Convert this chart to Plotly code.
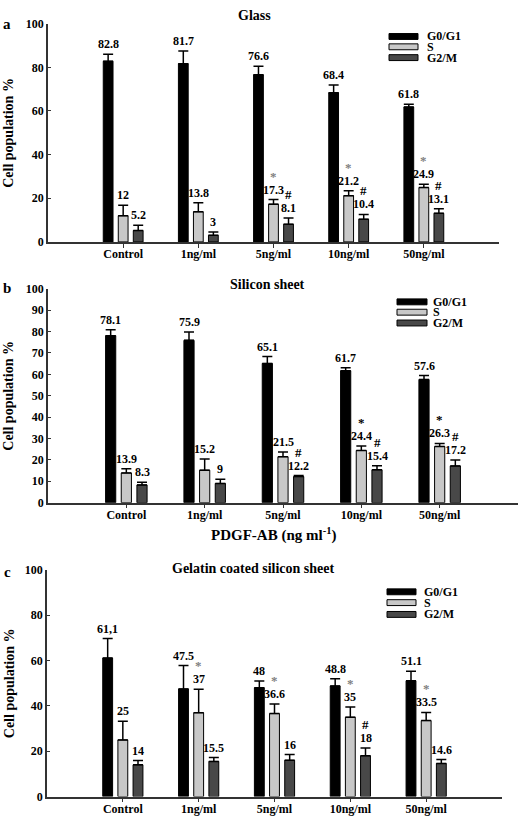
import plotly.graph_objects as go

W, H = 520, 818

categories = ["Control", "1ng/ml", "5ng/ml", "10ng/ml", "50ng/ml"]
series_names = ["G0/G1", "S", "G2/M"]
series_colors = ["#000000", "#c8c8c8", "#484848"]

# Panel a: Glass
glass_g0 = [82.8, 81.7, 76.6, 68.4, 61.8]
glass_s = [12, 13.8, 17.3, 21.2, 24.9]
glass_g2m = [5.2, 3, 8.1, 10.4, 13.1]
glass_g0_err = [3.2, 5.8, 3.9, 3.5, 1.3]
glass_s_err = [4.8, 4.2, 2.1, 2.2, 1.5]
glass_g2m_err = [2.4, 1.5, 2.9, 2.2, 2.1]
glass_g0_lbl = ["82.8", "81.7", "76.6", "68.4", "61.8"]
glass_s_lbl = ["12", "13.8", "17.3", "21.2", "24.9"]
glass_g2m_lbl = ["5.2", "3", "8.1", "10.4", "13.1"]
glass_s_sig = ["", "", "*", "*", "*"]
glass_g2m_sig = ["", "", "#", "#", "#"]

# Panel b: Silicon sheet
sil_g0 = [78.1, 75.9, 65.1, 61.7, 57.6]
sil_s = [13.9, 15.2, 21.5, 24.4, 26.3]
sil_g2m = [8.3, 9, 12.2, 15.4, 17.2]
sil_g0_err = [2.8, 3.9, 3.2, 1.4, 1.8]
sil_s_err = [1.9, 5.2, 2.2, 2.1, 1.4]
sil_g2m_err = [1.3, 2.0, 0.5, 1.9, 2.7]
sil_g0_lbl = ["78.1", "75.9", "65.1", "61.7", "57.6"]
sil_s_lbl = ["13.9", "15.2", "21.5", "24.4", "26.3"]
sil_g2m_lbl = ["8.3", "9", "12.2", "15.4", "17.2"]
sil_s_sig = ["", "", "", "*", "*"]
sil_g2m_sig = ["", "", "#", "#", "#"]

# Panel c: Gelatin coated silicon sheet
gel_g0 = [61.1, 47.5, 48, 48.8, 51.1]
gel_s = [25, 37, 36.6, 35, 33.5]
gel_g2m = [14, 15.5, 16, 18, 14.6]
gel_g0_err = [8.6, 10.3, 3.0, 3.2, 4.2]
gel_s_err = [8.2, 10.3, 4.2, 4.5, 3.6]
gel_g2m_err = [1.9, 1.7, 2.5, 3.4, 1.7]
gel_g0_lbl = ["61,1", "47.5", "48", "48.8", "51.1"]
gel_s_lbl = ["25", "37", "36.6", "35", "33.5"]
gel_g2m_lbl = ["14", "15.5", "16", "18", "14.6"]
gel_s_sig = ["", "*", "*", "*", "*"]
gel_g2m_sig = ["", "", "", "#", ""]

panel_titles = ["Glass", "Silicon sheet", "Gelatin coated silicon sheet"]
panel_letters = ["a", "b", "c"]
y_ticks = [[0, 20, 40, 60, 80, 100],
           [0, 10, 20, 30, 40, 50, 60, 70, 80, 90, 100],
           [0, 20, 40, 60, 80, 100]]
x_title_b = "PDGF-AB (ng ml<sup>-1</sup>)"

panels = [
    dict(vals=[glass_g0, glass_s, glass_g2m], errs=[glass_g0_err, glass_s_err, glass_g2m_err],
         lbls=[glass_g0_lbl, glass_s_lbl, glass_g2m_lbl], sig=[None, glass_s_sig, glass_g2m_sig],
         sigcolor="#7f7f7f"),
    dict(vals=[sil_g0, sil_s, sil_g2m], errs=[sil_g0_err, sil_s_err, sil_g2m_err],
         lbls=[sil_g0_lbl, sil_s_lbl, sil_g2m_lbl], sig=[None, sil_s_sig, sil_g2m_sig],
         sigcolor="#000000"),
    dict(vals=[gel_g0, gel_s, gel_g2m], errs=[gel_g0_err, gel_s_err, gel_g2m_err],
         lbls=[gel_g0_lbl, gel_s_lbl, gel_g2m_lbl], sig=[None, gel_s_sig, gel_g2m_sig],
         sigcolor="#7f7f7f"),
]


def px(x):
    return x / W


def py(y):
    return 1 - y / H


# layout geometry (pixels): x0, x1, ytop(100), ybottom(0)
geom = [(48, 499, 17, 239), (48, 518, 286.7, 504.3), (47, 502, 572.7, 803.3)]
title_pos = [(254, 9), (267, 282), (253, 571)]
letter_pos = [(7, 17), (7, 286), (7, 575)]
legend_geom = [(389, 418, 425, [30, 40.5, 51.5]),
               (397, 427, 431, [300, 310.5, 321.5]),
               (387, 416, 422, [595, 606, 618])]

FONT = "Liberation Serif"
fig = go.Figure()
annotations = []
shapes = []
offsets = [-0.2, 0.0, 0.2]
bw = 0.13
xs = list(range(len(categories)))

for p, panel in enumerate(panels):
    xa = "x" if p == 0 else f"x{p+1}"
    ya = "y" if p == 0 else f"y{p+1}"
    for s in range(3):
        fig.add_trace(go.Bar(
            x=xs, y=panel["vals"][s], width=bw, offset=offsets[s] - bw / 2,
            marker=dict(color=series_colors[s], line=dict(color="#000000", width=1)),
            error_y=dict(type="data", symmetric=False, array=panel["errs"][s],
                         arrayminus=[0] * len(xs), color="#000000", thickness=1.5, width=5),
            xaxis=xa, yaxis=ya, showlegend=False, name=series_names[s]))
        for i in xs:
            top = panel["vals"][s][i] + panel["errs"][s][i]
            annotations.append(dict(
                x=i + offsets[s], y=top, xref=xa, yref=ya, text=panel["lbls"][s][i],
                showarrow=False, yanchor="bottom", xanchor="center", yshift=1,
                font=dict(family=FONT, size=12, color="#000", weight="bold")))
            if panel["sig"][s] is not None and panel["sig"][s][i]:
                mark = panel["sig"][s][i]
                col = panel["sigcolor"] if mark == "*" else "#000000"
                annotations.append(dict(
                    x=i + offsets[s], y=top, xref=xa, yref=ya, text=mark,
                    showarrow=False, yanchor="bottom", xanchor="center", yshift=14,
                    font=dict(family=FONT, size=13, color=col, weight="bold")))

    x0, x1, yt, yb = geom[p]
    suffix = "" if p == 0 else str(p + 1)
    fig.layout["xaxis" + suffix] = dict(
        domain=[px(x0), px(x1)], range=[-1, 5], anchor=ya,
        tickvals=xs, ticktext=categories, ticks="outside", ticklen=4, tickwidth=1,
        tickcolor="#333", showline=True, linecolor="#333", linewidth=1.5,
        showgrid=False, zeroline=False, ticklabelstandoff=-4,
        tickfont=dict(family=FONT, size=12, color="#000", weight="bold"))
    fig.layout["yaxis" + suffix] = dict(
        domain=[py(yb), py(yt)], range=[0, 100], anchor=xa,
        tickvals=y_ticks[p], ticks="inside", ticklen=3, tickwidth=1, tickcolor="#333",
        showline=True, linecolor="#333", linewidth=1.5, showgrid=False, zeroline=False,
        tickfont=dict(family=FONT, size=12, color="#000", weight="bold"))

    # titles / letters / y-axis titles
    tx, ty = title_pos[p]
    annotations.append(dict(x=px(tx), y=py(ty), xref="paper", yref="paper",
                            text=panel_titles[p], showarrow=False, xanchor="center",
                            yanchor="middle",
                            font=dict(family=FONT, size=14, color="#000", weight="bold")))
    lx, ly = letter_pos[p]
    annotations.append(dict(x=px(lx), y=py(ly), xref="paper", yref="paper",
                            text=panel_letters[p], showarrow=False, xanchor="center",
                            yanchor="middle",
                            font=dict(family=FONT, size=15, color="#000", weight="bold")))
    annotations.append(dict(x=px(9), y=py((yt + yb) / 2), xref="paper", yref="paper",
                            text="Cell population %", textangle=-90, showarrow=False,
                            xanchor="center", yanchor="middle",
                            font=dict(family=FONT, size=14, color="#000", weight="bold")))

    # legend
    rx0, rx1, tx0, rows = legend_geom[p]
    for s in range(3):
        shapes.append(dict(type="rect", xref="paper", yref="paper",
                           x0=px(rx0), x1=px(rx1), y0=py(rows[s] + 3), y1=py(rows[s] - 3),
                           fillcolor=series_colors[s], line=dict(color="#000", width=1)))
        annotations.append(dict(x=px(tx0), y=py(rows[s]), xref="paper", yref="paper",
                                text=series_names[s], showarrow=False, xanchor="left",
                                yanchor="middle",
                                font=dict(family=FONT, size=12, color="#000", weight="bold")))

annotations.append(dict(x=px(273), y=py(537), xref="paper", yref="paper",
                        text=x_title_b, showarrow=False, xanchor="center", yanchor="middle",
                        font=dict(family=FONT, size=15, color="#000", weight="bold")))

fig.update_layout(width=W, height=H, margin=dict(l=0, r=0, t=0, b=0),
                  paper_bgcolor="white", plot_bgcolor="white", barmode="overlay",
                  annotations=annotations, shapes=shapes, showlegend=False)

fig.write_html("out.html", config={"displayModeBar": False},
               post_script="document.body.style.margin='0';document.body.style.overflow='hidden';")
